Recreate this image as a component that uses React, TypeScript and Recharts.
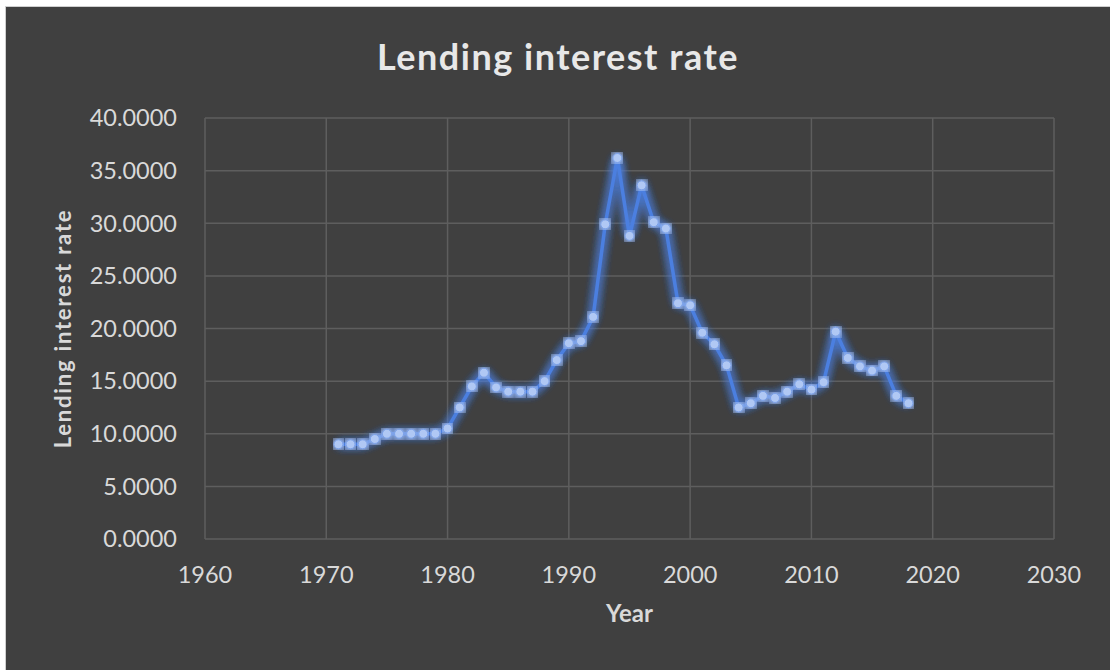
import { LineChart, Line, XAxis, YAxis, CartesianGrid } from 'recharts';

const years = [
  1971, 1972, 1973, 1974, 1975, 1976, 1977, 1978, 1979, 1980,
  1981, 1982, 1983, 1984, 1985, 1986, 1987, 1988, 1989, 1990,
  1991, 1992, 1993, 1994, 1995, 1996, 1997, 1998, 1999, 2000,
  2001, 2002, 2003, 2004, 2005, 2006, 2007, 2008, 2009, 2010,
  2011, 2012, 2013, 2014, 2015, 2016, 2017, 2018,
];

const rates = [
  9.0, 9.0, 9.0, 9.5, 10.0, 10.0, 10.0, 10.0, 10.0, 10.5,
  12.5, 14.5, 15.8, 14.4, 14.0, 14.0, 14.0, 15.0, 17.0, 18.6,
  18.8, 21.1, 29.9, 36.2, 28.8, 33.6, 30.1, 29.5, 22.4, 22.2,
  19.6, 18.5, 16.5, 12.5, 12.9, 13.6, 13.4, 14.0, 14.7, 14.2,
  14.9, 19.7, 17.2, 16.4, 16.0, 16.4, 13.6, 12.9,
];

const xTicks = [1960, 1970, 1980, 1990, 2000, 2010, 2020, 2030];
const yTicks = [0, 5, 10, 15, 20, 25, 30, 35, 40];

const data = years.map((year, i) => ({ year, rate: rates[i] }));

const FONT = "Lato, 'Open Sans', sans-serif";
const TEXT = '#d9d9d9';

const YLabel = ({ viewBox }: any) => {
  const cx = 56;
  const cy = viewBox.y + viewBox.height / 2;
  return (
    <text
      x={cx}
      y={cy}
      transform={`rotate(-90, ${cx}, ${cy})`}
      textAnchor="middle"
      dominantBaseline="central"
      fill={TEXT}
      fontFamily={FONT}
      fontSize={22}
      fontWeight={700}
      letterSpacing={1.8}
    >
      Lending interest rate
    </text>
  );
};

export default function App() {
  return (
    <div style={{ position: 'fixed', left: 0, top: 0, width: 1110, height: 670, background: '#fff' }}>
      <div
        style={{
          position: 'absolute',
          left: 5,
          top: 6,
          width: 1105,
          height: 664,
          background: '#404040',
          borderLeft: '1px solid #cfcfcf',
          borderTop: '1px solid #cfcfcf',
          boxSizing: 'border-box',
        }}
      >
        <div
          style={{
            position: 'absolute',
            left: 0,
            right: 0,
            top: 27,
            textAlign: 'center',
            color: '#e8e8e8',
            fontFamily: FONT,
            fontSize: 36,
            fontWeight: 700,
            letterSpacing: 1.5,
          }}
        >
          Lending interest rate
        </div>
        <LineChart
          width={1104}
          height={663}
          data={data}
          margin={{ top: 111, right: 56, bottom: 0, left: 0 }}
          style={{ position: 'absolute', left: 0, top: 0 }}
        >
          <defs>
            <filter id="glow" x="-10%" y="-10%" width="120%" height="120%">
              <feGaussianBlur stdDeviation="5" result="blur" />
              <feMerge>
                <feMergeNode in="blur" />
                <feMergeNode in="blur" />
                <feMergeNode in="blur" />
                <feMergeNode in="SourceGraphic" />
              </feMerge>
            </filter>
          </defs>
          <CartesianGrid stroke="#5e5e5e" strokeWidth={1.5} />
          <XAxis
            dataKey="year"
            type="number"
            domain={[1960, 2030]}
            ticks={xTicks}
            axisLine={false}
            tickLine={false}
            height={131}
            tick={{ fill: TEXT, fontSize: 23.5, fontFamily: FONT }}
            tickMargin={21}
            label={{
              value: 'Year',
              position: 'insideTop',
              offset: 66,
              fill: TEXT,
              fontSize: 24,
              fontWeight: 700,
              fontFamily: FONT,
            }}
          />
          <YAxis
            type="number"
            domain={[0, 40]}
            ticks={yTicks}
            axisLine={false}
            tickLine={false}
            width={199}
            tickFormatter={(v: number) => v.toFixed(4)}
            tick={{ fill: TEXT, fontSize: 23.5, fontFamily: FONT }}
            tickMargin={22}
            label={<YLabel />}
          />
          <Line
            type="linear"
            dataKey="rate"
            stroke="#4c7fe0"
            strokeWidth={3.5}
            filter="url(#glow)"
            dot={{ r: 4.5, fill: '#b0c8f4', stroke: '#7aa0e8', strokeWidth: 1 }}
            isAnimationActive={false}
          />
        </LineChart>
      </div>
    </div>
  );
}
